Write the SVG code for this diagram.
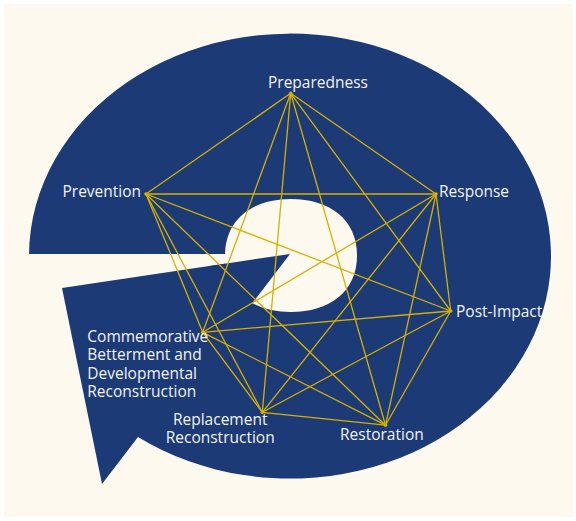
<svg xmlns="http://www.w3.org/2000/svg" width="576" height="521" viewBox="0 0 576 521">
  <style>
    .bg { fill: #ffffff; }
    .paper { fill: #fdf9ef; }
    .band { fill: #1b3a76; }
    .hole { fill: #fdf9ef; }
    .link { stroke: #d7b000; stroke-width: 1.3; fill: none; stroke-linecap: round; }
    .dot { fill: #d7b000; }
    .label { font-family: "Open Sans", "Noto Sans", "Liberation Sans", sans-serif; font-size: 15.5px; fill: #f3f3f3; }
  </style>

  <rect class="bg" x="0" y="0" width="576" height="521"/>
  <rect class="paper" x="4" y="4" width="569" height="513"/>

  <!-- swirl shape: big ellipse with a cut band and a tail -->
  <path class="band" d="M29,254 A261,222.5 0 1,1 138,437 L102,484 L62,288 L290,254 Z"/>
  <!-- open centre -->
  <path class="hole" d="M357,255.5 C357,292.2 328.9,312 291,312 C253.1,312 225,292.2 225,255.5 C225,218.8 253.1,199 291,199 C328.9,199 357,218.8 357,255.5 Z"/>
  <!-- wedge pointing into the centre -->
  <path class="band" d="M290,254 L210,265.9 L241,318 Z"/>

  <!-- connectors: every phase linked to every other -->
  <g id="connectors">
    <line class="link" x1="290.7" y1="93.3" x2="146" y2="194"/>
    <line class="link" x1="290.7" y1="93.3" x2="436" y2="194"/>
    <line class="link" x1="290.7" y1="93.3" x2="450.7" y2="311"/>
    <line class="link" x1="290.7" y1="93.3" x2="385.5" y2="425.2"/>
    <line class="link" x1="290.7" y1="93.3" x2="262.3" y2="412.3"/>
    <line class="link" x1="290.7" y1="93.3" x2="202.7" y2="332.3"/>
    <line class="link" x1="146" y1="194" x2="436" y2="194"/>
    <line class="link" x1="146" y1="194" x2="450.7" y2="311"/>
    <line class="link" x1="146" y1="194" x2="385.5" y2="425.2"/>
    <line class="link" x1="146" y1="194" x2="262.3" y2="412.3"/>
    <line class="link" x1="146" y1="194" x2="202.7" y2="332.3"/>
    <line class="link" x1="436" y1="194" x2="450.7" y2="311"/>
    <line class="link" x1="436" y1="194" x2="385.5" y2="425.2"/>
    <line class="link" x1="436" y1="194" x2="262.3" y2="412.3"/>
    <line class="link" x1="436" y1="194" x2="202.7" y2="332.3"/>
    <line class="link" x1="450.7" y1="311" x2="385.5" y2="425.2"/>
    <line class="link" x1="450.7" y1="311" x2="262.3" y2="412.3"/>
    <line class="link" x1="450.7" y1="311" x2="202.7" y2="332.3"/>
    <line class="link" x1="385.5" y1="425.2" x2="262.3" y2="412.3"/>
    <line class="link" x1="385.5" y1="425.2" x2="202.7" y2="332.3"/>
    <line class="link" x1="262.3" y1="412.3" x2="202.7" y2="332.3"/>
  </g>

  <g id="preparedness">
    <circle class="dot" cx="290.7" cy="93.3" r="1.8"/>
    <text class="label" x="268" y="88.3">Preparedness</text>
  </g>
  <g id="prevention">
    <circle class="dot" cx="146" cy="194" r="1.8"/>
    <text class="label" x="62.5" y="196.7">Prevention</text>
  </g>
  <g id="response">
    <circle class="dot" cx="436" cy="194" r="1.8"/>
    <text class="label" x="439" y="196.7">Response</text>
  </g>
  <g id="post-impact">
    <circle class="dot" cx="450.7" cy="311" r="1.8"/>
    <text class="label" x="456" y="316.7">Post-Impact</text>
  </g>
  <g id="restoration">
    <circle class="dot" cx="385.5" cy="425.2" r="1.8"/>
    <text class="label" x="340" y="440.3">Restoration</text>
  </g>
  <g id="replacement">
    <circle class="dot" cx="262.3" cy="412.3" r="1.8"/>
    <text class="label" text-anchor="middle" x="220.2" y="425">Replacement</text>
    <text class="label" text-anchor="middle" x="220.2" y="443.3">Reconstruction</text>
  </g>
  <g id="commemorative">
    <circle class="dot" cx="202.7" cy="332.3" r="1.8"/>
    <text class="label" x="87.3" y="341.6">Commemorative</text>
    <text class="label" x="87.3" y="360.2">Betterment and</text>
    <text class="label" x="87.3" y="378.8">Developmental</text>
    <text class="label" x="87.3" y="397.4">Reconstruction</text>
  </g>
</svg>
